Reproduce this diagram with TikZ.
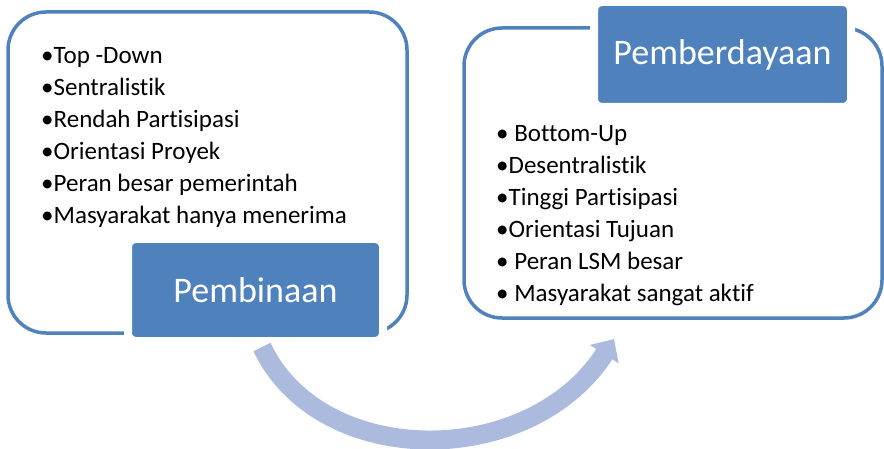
\documentclass[tikz,border=0pt]{standalone}
\usepackage{fontspec}
\setmainfont{Carlito}[Ligatures=NoCommon]
\usetikzlibrary{arrows.meta}
\definecolor{boxblue}{RGB}{79,129,189}
\definecolor{arrowblue}{RGB}{172,186,222}
\begin{document}
\begin{tikzpicture}[x=1pt,y=-1pt,
  outerbox/.style={draw=boxblue,line width=3.5pt,rounded corners=38pt,inner sep=0pt},
  titlebox/.style={fill=boxblue,draw=white,line width=8pt,rounded corners=8pt,
    text=white,font=\fontsize{36}{40}\selectfont,inner sep=0pt},
  listtext/.style={align=left,anchor=north west,inner sep=0pt,
    font=\fontsize{25}{32}\selectfont}]
\useasboundingbox (0,0) rectangle (884,449);
% curved arrow underneath
\coordinate (arrowtip) at (614,339);
\node[outerbox,minimum width=399pt,minimum height=321pt] (leftbox) at (207.5,172.5) {};
\node[outerbox,minimum width=418pt,minimum height=290pt] (rightbox) at (673,173) {};
\node[titlebox,minimum width=255pt,minimum height=102pt] (pembinaan) at (255.5,290) {Pembinaan};
\node[titlebox,minimum width=257pt,minimum height=105pt] (pemberdayaan) at (722.5,54.5) {Pemberdayaan};
\draw[arrowblue,line width=19pt,-{Triangle[length=18pt,width=33pt]}]
  ([xshift=6.5pt,yshift=-2pt]pembinaan.south) .. controls (320,470) and (530,470) .. (arrowtip);
\node[listtext] (leftlist) at (41,47) {•Top -Down\\•Sentralistik\\•Rendah Partisipasi\\
  •Orientasi Proyek\\•Peran besar pemerintah\\•Masyarakat hanya menerima};
\node[listtext] (rightlist) at (496,125) {• Bottom-Up\\•Desentralistik\\•Tinggi Partisipasi\\
  •Orientasi Tujuan\\• Peran LSM besar\\• Masyarakat sangat aktif};
\end{tikzpicture}
\end{document}
